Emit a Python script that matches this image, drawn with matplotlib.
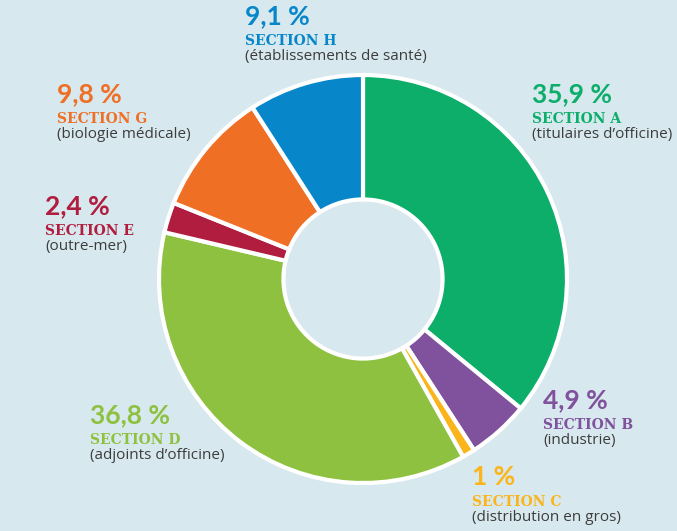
import matplotlib.pyplot as plt

# data, clockwise from the top
sections = ["A", "B", "C", "D", "E", "G", "H"]
percents = [35.9, 4.9, 1.0, 36.8, 2.4, 9.8, 9.1]
pct_labels = ["35,9 %", "4,9 %", "1 %", "36,8 %", "2,4 %", "9,8 %", "9,1 %"]
descriptions = ["(titulaires d\u2019officine)", "(industrie)", "(distribution en gros)",
                "(adjoints d\u2019officine)", "(outre-mer)", "(biologie m\u00e9dicale)",
                "(\u00e9tablissements de sant\u00e9)"]
colors = ["#0cae6a", "#80519c", "#fbb51a", "#8dc13f", "#b01d3e", "#ef6f25", "#0787c9"]

# label anchor (left x, top y) in pixels
label_pos = [(532, 82), (543, 388), (472, 465), (90, 403), (45, 194), (57, 82), (245, 4)]

W, H = 677, 531
BG = "#d7e8ee"

fig = plt.figure(figsize=(W / 100, H / 100), dpi=100, facecolor=BG)

cx, cy, r = 363, 279, 204
side = 2 * r * 1.03
ax = fig.add_axes([(cx - side / 2) / W, (H - cy - side / 2) / H, side / W, side / H])
ax.set_facecolor(BG)
ax.pie(percents, colors=colors, startangle=90, counterclock=False, radius=1.0,
       wedgeprops=dict(width=0.61, edgecolor="white", linewidth=3))
ax.set_xlim(-1.03, 1.03)
ax.set_ylim(-1.03, 1.03)
ax.set_aspect("equal")
ax.axis("off")


def px(x, y):
    return x / W, 1 - y / H


for sec, pl, desc, col, (x, y) in zip(sections, pct_labels, descriptions, colors, label_pos):
    fig.text(*px(x, y), pl, color=col, fontsize=19, fontweight="bold",
             family="Lato", va="top", ha="left")
    fig.text(*px(x, y + 30), "SECTION " + sec, color=col, fontsize=10, fontweight="bold",
             family="DejaVu Serif", va="top", ha="left")
    fig.text(*px(x, y + 45), desc, color="#3d3d3d", fontsize=11,
             family="Open Sans", va="top", ha="left")

fig.savefig("out.png", dpi=100, facecolor=BG)
